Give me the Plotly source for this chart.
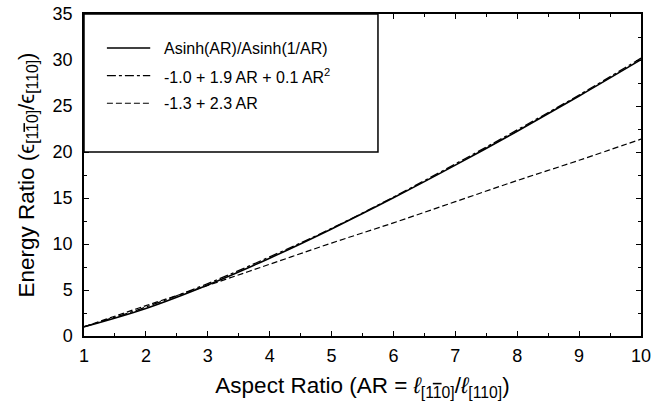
import plotly.graph_objects as go

# Data
aspect_ratio = [1, 2, 3, 4, 5, 6, 7, 8, 9, 10]
asinh_ratio = [1.0, 3.0, 5.55, 8.46, 11.64, 15.02, 18.57, 22.26, 26.09, 30.04]
quadratic_fit = [1.0, 3.15, 5.7, 8.6, 11.7, 15.1, 18.7, 22.4, 26.2, 30.2]
linear_fit = [1.0, 3.3, 5.5, 7.8, 10.1, 12.3, 14.6, 16.9, 19.1, 21.4]

legend_labels = ["Asinh(AR)/Asinh(1/AR)",
                 "-1.0 + 1.9 AR + 0.1 AR<sup>2</sup>",
                 "-1.3 + 2.3 AR"]
dashes = ["solid", "dashdot", "6px,3px"]
series = [asinh_ratio, quadratic_fit, linear_fit]
widths = [1.6, 1.3, 1.2]

FONT = "Liberation Sans, Arial, Helvetica, sans-serif"
BAR1 = "<span style='text-decoration:overline'>1</span>"

fig = go.Figure()
for ys, d, w, name in zip(series, dashes, widths, legend_labels):
    fig.add_trace(go.Scatter(x=aspect_ratio, y=ys, mode="lines", name=name,
                             line=dict(color="black", width=w, dash=d, shape="spline"),
                             showlegend=False))

# Legend box (manual)
fig.add_shape(type="rect", xref="x", yref="y", x0=1, x1=5.75, y0=20, y1=35,
              line=dict(color="black", width=1.5), fillcolor="white", layer="above")
rows_y = [31.3, 28.3, 25.3]
for yy, d, w, name in zip(rows_y, dashes, widths, legend_labels):
    fig.add_shape(type="line", xref="x", yref="y", x0=1.37, x1=2.07, y0=yy, y1=yy,
                  line=dict(color="black", width=w, dash=d), layer="above")
    fig.add_annotation(x=2.26, y=yy, xref="x", yref="y", text=name, showarrow=False,
                       xanchor="left", yanchor="middle",
                       font=dict(family=FONT, size=16, color="black"))

axis_common = dict(showline=True, linecolor="black", linewidth=1.5, mirror="ticks",
                   ticks="inside", ticklen=5, tickwidth=1, tickcolor="black",
                   showgrid=False, zeroline=False, automargin=False,
                   ticklabeloverflow="allow",
                   tickfont=dict(family=FONT, size=18, color="black"))

fig.update_xaxes(range=[1, 10], dtick=1, tick0=1,
                 minor=dict(dtick=0.5, ticks="inside", ticklen=3, tickcolor="black"),
                 title=dict(text="Aspect Ratio (AR = <i>ℓ</i><sub>[1" + BAR1 + "0]</sub>/<i>ℓ</i><sub>[110]</sub>)",
                            font=dict(family=FONT, size=22.5, color="black"), standoff=12),
                 ticklabelstandoff=3,
                 **axis_common)
fig.update_yaxes(range=[0, 35], dtick=5, tick0=0,
                 minor=dict(dtick=2.5, ticks="inside", ticklen=3, tickcolor="black"),
                 title=dict(text="Energy Ratio (ϵ<sub>[1" + BAR1 + "0]</sub>/ϵ<sub>[110]</sub>)",
                            font=dict(family=FONT, size=22.5, color="black"), standoff=12),
                 ticklabelstandoff=6,
                 **axis_common)

fig.update_layout(width=651, height=408, plot_bgcolor="white", paper_bgcolor="white",
                  margin=dict(l=84, r=10, t=14, b=72))

fig.write_html("out.html", config={"displayModeBar": False},
               post_script="document.body.style.margin='0px';document.body.style.overflow='hidden';")
